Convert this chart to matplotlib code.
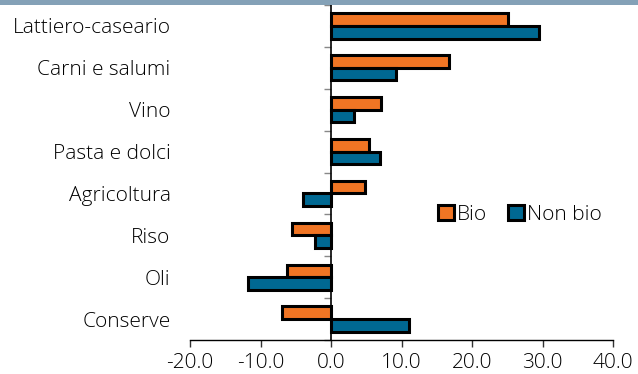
import matplotlib.pyplot as plt
import numpy as np
from matplotlib.patches import Rectangle

# Data
categories = ["Lattiero-caseario", "Carni e salumi", "Vino", "Pasta e dolci",
              "Agricoltura", "Riso", "Oli", "Conserve"]
bio = [25.1, 16.8, 7.1, 5.4, 4.8, -5.5, -6.3, -6.9]
non_bio = [29.5, 9.2, 3.3, 7.0, -4.0, -2.3, -11.8, 11.0]
xticks = [-20, -10, 0, 10, 20, 30, 40]

# Style
bio_color = "#F07524"
nonbio_color = "#006892"
banner_color = "#84A1B7"
text_color = "#000000"
fontsize = 15
bar_h = 0.3
edge_lw = 2.2

plt.rcParams["font.family"] = ["Open Sans", "DejaVu Sans"]
plt.rcParams["font.weight"] = "light"

fig = plt.figure(figsize=(6.38, 3.74), dpi=100)
ax = fig.add_axes([190 / 638, 34 / 374, 423 / 638, 335 / 374])

y = np.arange(len(categories))
ax.barh(y - bar_h / 2, bio, height=bar_h, color=bio_color,
        edgecolor="black", linewidth=edge_lw, label="Bio", zorder=2)
ax.barh(y + bar_h / 2, non_bio, height=bar_h, color=nonbio_color,
        edgecolor="black", linewidth=edge_lw, label="Non bio", zorder=2)

ax.set_xlim(-20, 40)
ax.set_ylim(len(categories) - 0.5, -0.5)

# x axis
ax.set_xticks(xticks)
ax.set_xticklabels([f"{v:.1f}" for v in xticks], fontsize=fontsize, color=text_color)
ax.tick_params(axis="x", direction="out", length=5, width=1, color="#333333", pad=4)

# category labels on the left, no ticks
ax.set_yticks(y)
ax.set_yticklabels(categories, fontsize=fontsize, color=text_color)
ax.tick_params(axis="y", length=0, pad=14)

for s in ["top", "right", "left"]:
    ax.spines[s].set_visible(False)
ax.spines["bottom"].set_linewidth(1)

# vertical zero axis with boundary ticks
zero_pos = (0 - xticks[0]) / (xticks[-1] - xticks[0])
sec = ax.secondary_yaxis(zero_pos)
sec.set_yticks(np.arange(len(categories) + 1) - 0.5)
sec.set_yticklabels([])
sec.tick_params(axis="y", direction="out", length=5, width=1, color="#888888")
sec.spines["left"].set_linewidth(1.2)
sec.spines["left"].set_zorder(3)

leg = ax.legend(loc="center", bbox_to_anchor=(0.78, 0.373), ncol=2, frameon=False,
                fontsize=fontsize, handlelength=0.75, handleheight=0.75,
                handletextpad=0.15, columnspacing=1.0, borderpad=0)
for t in leg.get_texts():
    t.set_color(text_color)

# header strip cut off at the top
fig.patches.append(Rectangle((0, 1 - 5 / 374), 1, 5 / 374, transform=fig.transFigure,
                             facecolor=banner_color, edgecolor="none"))

fig.savefig("out.png", dpi=100)
